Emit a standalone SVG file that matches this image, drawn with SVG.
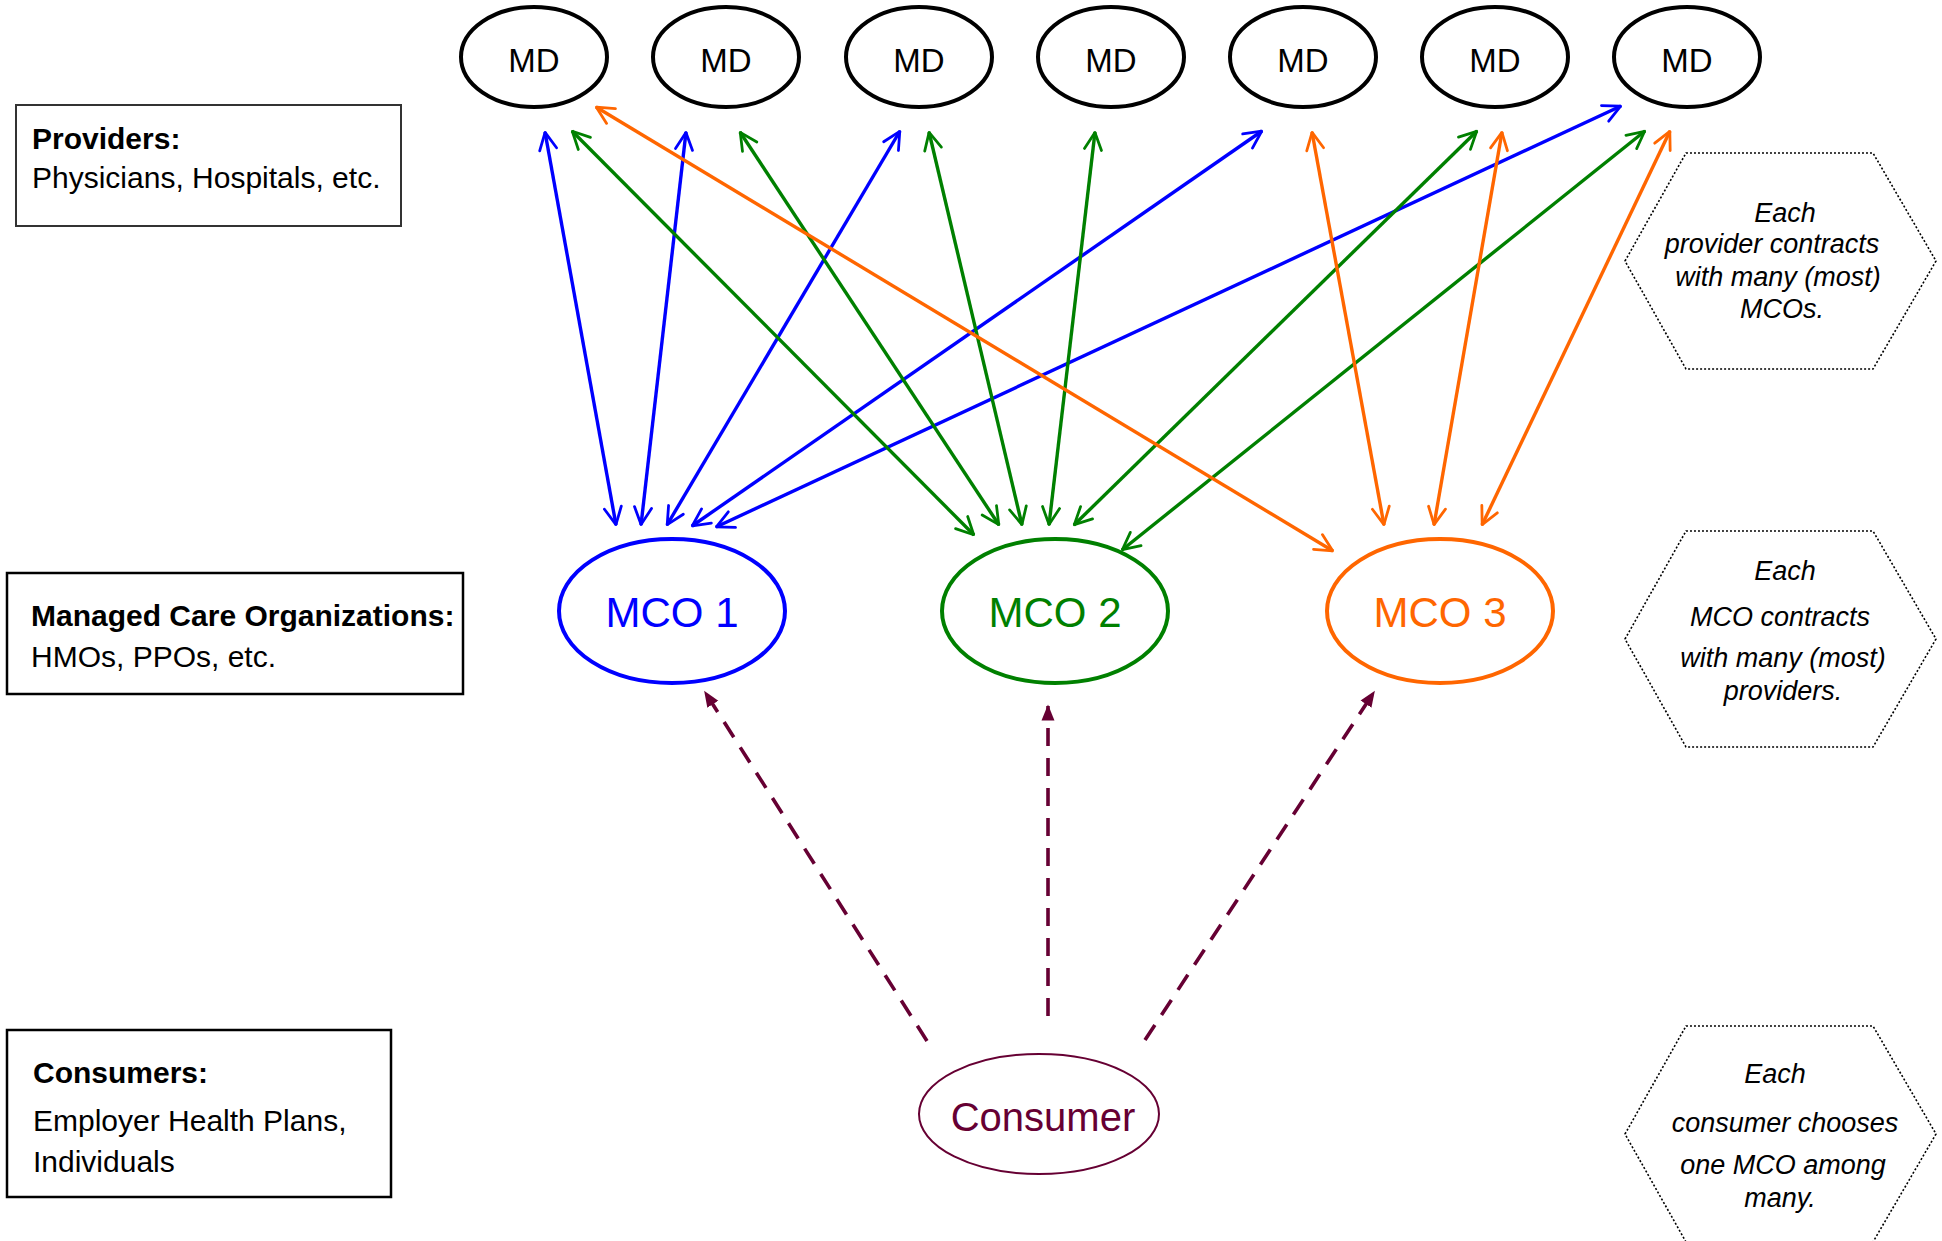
<svg xmlns="http://www.w3.org/2000/svg" width="1942" height="1241" viewBox="0 0 1942 1241">
  <style>
    text { font-family: "Liberation Sans", Arial, sans-serif; }
    .md { fill: #fff; stroke: #000; stroke-width: 4; }
    .mdt { font-size: 33px; text-anchor: middle; fill: #000; }
    .mcot { font-size: 42px; text-anchor: middle; }
    .box { fill: #fff; stroke: #000; stroke-width: 2.5; }
    .hd { font-size: 30px; font-weight: bold; fill: #000; }
    .sub { font-size: 30px; fill: #000; }
    .hex { fill: none; stroke: #000; stroke-width: 1.6; stroke-dasharray: 2 2; }
    .note { font-size: 27px; font-style: italic; text-anchor: middle; fill: #000; }
    .b { stroke: #0000ff; }
    .g { stroke: #008000; }
    .o { stroke: #ff6600; }
    .c line { stroke-width: 3.4; fill: none; }
    .c .d { stroke: #660033; stroke-width: 3.6; stroke-dasharray: 18 12; fill: none; }
  </style>
  <defs>
    <marker id="ab" viewBox="0 0 10 10" refX="9.2" refY="5" markerWidth="6.3" markerHeight="6.3" orient="auto-start-reverse" markerUnits="strokeWidth">
      <path d="M1,1 L9,5 L1,9" fill="none" stroke="#0000ff" stroke-width="1.3" stroke-linecap="round" stroke-linejoin="round"/>
    </marker>
    <marker id="ag" viewBox="0 0 10 10" refX="9.2" refY="5" markerWidth="6.3" markerHeight="6.3" orient="auto-start-reverse" markerUnits="strokeWidth">
      <path d="M1,1 L9,5 L1,9" fill="none" stroke="#008000" stroke-width="1.3" stroke-linecap="round" stroke-linejoin="round"/>
    </marker>
    <marker id="ao" viewBox="0 0 10 10" refX="9.2" refY="5" markerWidth="6.3" markerHeight="6.3" orient="auto-start-reverse" markerUnits="strokeWidth">
      <path d="M1,1 L9,5 L1,9" fill="none" stroke="#ff6600" stroke-width="1.3" stroke-linecap="round" stroke-linejoin="round"/>
    </marker>
    <marker id="ad" viewBox="0 0 10 10" refX="9" refY="5" markerWidth="4.5" markerHeight="4.5" orient="auto" markerUnits="strokeWidth">
      <path d="M0,1 L10,5 L0,9 z" fill="#660033"/>
    </marker>
  </defs>

  <g id="legend-providers">
    <rect x="16" y="105" width="385" height="121" fill="#fff" stroke="#333" stroke-width="2"/>
    <text class="hd" x="32" y="149">Providers:</text>
    <text class="sub" x="32" y="188">Physicians, Hospitals, etc.</text>
  </g>
  <g id="legend-mco">
    <rect class="box" x="7" y="573" width="456" height="121"/>
    <text class="hd" x="31" y="626">Managed Care Organizations:</text>
    <text class="sub" x="31" y="667">HMOs, PPOs, etc.</text>
  </g>
  <g id="legend-consumers">
    <rect class="box" x="7" y="1030" width="384" height="167"/>
    <text class="hd" x="33" y="1083">Consumers:</text>
    <text class="sub" x="33" y="1131">Employer Health Plans,</text>
    <text class="sub" x="33" y="1172">Individuals</text>
  </g>

  <g id="md1"><ellipse class="md" cx="534" cy="57" rx="73" ry="50"/><text class="mdt" x="534" y="72">MD</text></g>
  <g id="md2"><ellipse class="md" cx="726" cy="57" rx="73" ry="50"/><text class="mdt" x="726" y="72">MD</text></g>
  <g id="md3"><ellipse class="md" cx="919" cy="57" rx="73" ry="50"/><text class="mdt" x="919" y="72">MD</text></g>
  <g id="md4"><ellipse class="md" cx="1111" cy="57" rx="73" ry="50"/><text class="mdt" x="1111" y="72">MD</text></g>
  <g id="md5"><ellipse class="md" cx="1303" cy="57" rx="73" ry="50"/><text class="mdt" x="1303" y="72">MD</text></g>
  <g id="md6"><ellipse class="md" cx="1495" cy="57" rx="73" ry="50"/><text class="mdt" x="1495" y="72">MD</text></g>
  <g id="md7"><ellipse class="md" cx="1687" cy="57" rx="73" ry="50"/><text class="mdt" x="1687" y="72">MD</text></g>

  <g id="mco1"><ellipse cx="672" cy="611" rx="113" ry="72" fill="#fff" stroke="#0000ff" stroke-width="4"/><text class="mcot" x="672" y="627" fill="#0000ff">MCO 1</text></g>
  <g id="mco2"><ellipse cx="1055" cy="611" rx="113" ry="72" fill="#fff" stroke="#008000" stroke-width="4"/><text class="mcot" x="1055" y="627" fill="#008000">MCO 2</text></g>
  <g id="mco3"><ellipse cx="1440" cy="611" rx="113" ry="72" fill="#fff" stroke="#ff6600" stroke-width="4"/><text class="mcot" x="1440" y="627" fill="#ff6600">MCO 3</text></g>

  <g id="consumer"><ellipse cx="1039" cy="1114" rx="120" ry="60" fill="#fff" stroke="#660033" stroke-width="2"/><text x="1043" y="1131" font-size="40" text-anchor="middle" fill="#660033">Consumer</text></g>

  <g id="note-providers">
    <polygon class="hex" points="1625,261 1686,153 1873,153 1936,261 1873,369 1686,369"/>
    <text class="note" x="1785" y="222">Each</text>
    <text class="note" x="1772" y="253">provider contracts</text>
    <text class="note" x="1778" y="286">with many (most)</text>
    <text class="note" x="1782" y="318">MCOs.</text>
  </g>
  <g id="note-mco">
    <polygon class="hex" points="1625,639 1686,531 1873,531 1936,639 1873,747 1686,747"/>
    <text class="note" x="1785" y="580">Each</text>
    <text class="note" x="1780" y="626">MCO contracts</text>
    <text class="note" x="1783" y="667">with many (most)</text>
    <text class="note" x="1783" y="700">providers.</text>
  </g>
  <g id="note-consumer">
    <polygon class="hex" points="1625,1134 1686,1026 1873,1026 1936,1134 1873,1242 1686,1242"/>
    <text class="note" x="1775" y="1083">Each</text>
    <text class="note" x="1785" y="1132">consumer chooses</text>
    <text class="note" x="1783" y="1174">one MCO among</text>
    <text class="note" x="1780" y="1207">many.</text>
  </g>

  <g id="connectors" class="c">
    <line class="b" x1="545" y1="132" x2="616" y2="525" marker-start="url(#ab)" marker-end="url(#ab)"/>
    <line class="b" x1="686" y1="132" x2="641" y2="525" marker-start="url(#ab)" marker-end="url(#ab)"/>
    <line class="b" x1="900" y1="131" x2="667" y2="525" marker-start="url(#ab)" marker-end="url(#ab)"/>
    <line class="b" x1="1262" y1="131" x2="692" y2="526" marker-start="url(#ab)" marker-end="url(#ab)"/>
    <line class="b" x1="1621" y1="106" x2="716" y2="527" marker-start="url(#ab)" marker-end="url(#ab)"/>

    <line class="g" x1="572" y1="131" x2="974" y2="535" marker-start="url(#ag)" marker-end="url(#ag)"/>
    <line class="g" x1="740" y1="132" x2="999" y2="525" marker-start="url(#ag)" marker-end="url(#ag)"/>
    <line class="g" x1="929" y1="132" x2="1022" y2="525" marker-start="url(#ag)" marker-end="url(#ag)"/>
    <line class="g" x1="1095" y1="132" x2="1049" y2="525" marker-start="url(#ag)" marker-end="url(#ag)"/>
    <line class="g" x1="1477" y1="131" x2="1074" y2="525" marker-start="url(#ag)" marker-end="url(#ag)"/>
    <line class="g" x1="1645" y1="131" x2="1122" y2="550" marker-start="url(#ag)" marker-end="url(#ag)"/>

    <line class="o" x1="596" y1="107" x2="1333" y2="551" marker-start="url(#ao)" marker-end="url(#ao)"/>
    <line class="o" x1="1312" y1="132" x2="1384" y2="525" marker-start="url(#ao)" marker-end="url(#ao)"/>
    <line class="o" x1="1502" y1="132" x2="1434" y2="525" marker-start="url(#ao)" marker-end="url(#ao)"/>
    <line class="o" x1="1670" y1="131" x2="1482" y2="525" marker-start="url(#ao)" marker-end="url(#ao)"/>

    <line class="d" x1="927" y1="1041" x2="705" y2="692" marker-end="url(#ad)"/>
    <line class="d" x1="1048" y1="1016" x2="1048" y2="706" marker-end="url(#ad)"/>
    <line class="d" x1="1145" y1="1040" x2="1374" y2="692" marker-end="url(#ad)"/>
  </g>
</svg>
